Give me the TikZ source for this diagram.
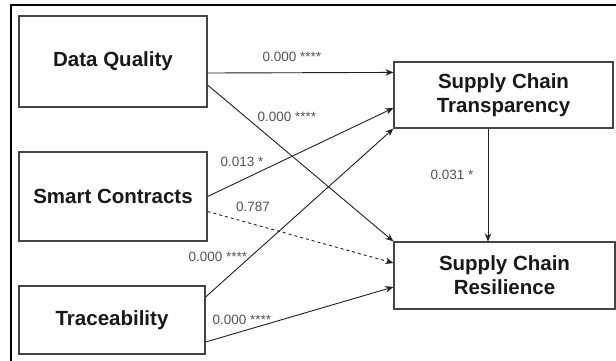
\documentclass[tikz,border=0pt]{standalone}
\usepackage{fontspec}
\setmainfont{Liberation Sans}
\usepackage{tikz}
\usetikzlibrary{arrows.meta}
\definecolor{boxgray}{rgb}{0.27, 0.27, 0.27}
\definecolor{labgray}{rgb}{0.33, 0.33, 0.33}
\definecolor{linegray}{rgb}{0.13, 0.13, 0.13}

\begin{document}
\begin{tikzpicture}[x=1pt,y=-1pt,
	construct/.style={draw=boxgray, line width=1.2pt, rectangle, align=center, inner sep=0pt,
		font=\bfseries\fontsize{20.5}{24}\selectfont, text=black!90},
	path/.style={draw=linegray, line width=0.9pt, -{Stealth[length=8pt,width=6.5pt]}},
	pval/.style={font=\fontsize{13.5}{15}\selectfont, text=labgray, inner sep=1pt}]
		\useasboundingbox (0,0) rectangle (616,360);
		\fill[white] (0,0) rectangle (616,360);
		\draw[line width=1.6pt] (11,5) rectangle (619,363);
		% constructs
		\node[construct, minimum width=188pt, minimum height=91pt] (dq) at (113,61.5) {Data Quality};
		\node[construct, minimum width=188pt, minimum height=89pt] (sc) at (113,196.5) {Smart Contracts};
		\node[construct, minimum width=186pt, minimum height=68pt] (tr) at (112,320) {Traceability};
		\node[construct, minimum width=219pt, minimum height=66pt] (sct) at (503.5,95) {Supply Chain\\Transparency};
		\node[construct, minimum width=221pt, minimum height=67pt] (scr) at (504.5,275.5) {Supply Chain\\Resilience};
		% paths
		\draw[path] ([yshift=-11.5pt]dq.east) -- ([yshift=-11pt]sct.north west);
		\draw[path] ([yshift=-23.5pt]dq.east) -- (scr.north west);
		\draw[path] (sc.east) -- ([yshift=-13pt]sct.west);
		\draw[path, dashed] ([yshift=-15pt]sc.east) -- ([yshift=12.5pt]scr.west);
		\draw[path] ([yshift=23pt]tr.east) -- (sct.south west);
		\draw[path] ([yshift=-22pt]tr.east) -- ([yshift=-11.5pt]scr.west);
		\draw[path] ([xshift=-15.5pt]sct.south) -- ([xshift=-16.5pt]scr.north);
		% p-values
		\node[pval] (p1) at (292,57) {0.000 ****};
		\node[pval] (p2) at (287,117) {0.000 ****};
		\node[pval] (p3) at (242,162) {0.013 *};
		\node[pval] (p4) at (253,207) {0.787};
		\node[pval] (p5) at (218,257) {0.000 ****};
		\node[pval] (p6) at (242,320) {0.000 ****};
		\node[pval] (p7) at (452,175) {0.031 *};
\end{tikzpicture}
\end{document}
